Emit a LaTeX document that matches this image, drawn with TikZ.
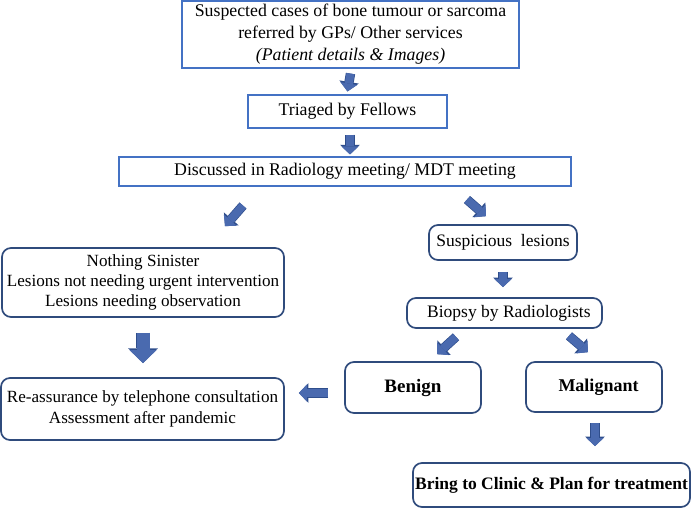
\documentclass[tikz,border=0pt]{standalone}
\usepackage{fontspec}
\setmainfont{Liberation Serif}
\usetikzlibrary{arrows.meta,calc}
\definecolor{rectline}{HTML}{4472C4}
\definecolor{roundline}{HTML}{2F4B7C}
\definecolor{arrowfill}{HTML}{4A6AAF}
\definecolor{arrowline}{HTML}{2F4E8C}
\tikzset{
	plainbox/.style={draw=rectline, line width=1.1pt, inner sep=0pt, align=center, font=\fontsize{17.8}{22}\selectfont},
	roundbox/.style={draw=roundline, line width=1.7pt, rounded corners=9pt, inner sep=0pt, align=center, font=\fontsize{17.1}{20.3}\selectfont},
	thinflow/.style={draw=arrowfill, line width=8pt, -{Triangle[width=17pt,length=8pt,line width=0pt]},
		preaction={draw=arrowline, line width=9.4pt, -{Triangle[width=19.6pt,length=9.6pt,line width=0pt]}}},
	thickflow/.style={draw=arrowfill, line width=13pt, -{Triangle[width=27pt,length=13pt,line width=0pt]},
		preaction={draw=arrowline, line width=14.6pt, -{Triangle[width=29.8pt,length=14.8pt,line width=0pt]}}}
}
\begin{document}
\begin{tikzpicture}[x=1pt,y=-1pt]
		\useasboundingbox (0,0) rectangle (691,509);
		\node[plainbox, minimum width=337pt, minimum height=67pt] (cases) at (350.5,34.5) {Suspected cases of bone tumour or sarcoma\\referred by GPs/ Other services\\\textit{(Patient details \& Images)}};
		\node[plainbox, minimum width=199pt, minimum height=33pt] (triage) at (347.5,111.5) {Triaged by Fellows};
		\node[plainbox, minimum width=452pt, minimum height=29pt] (meeting) at (345,171.5) {Discussed in Radiology meeting/ MDT meeting};
		\node[roundbox, minimum width=282pt, minimum height=69pt] (sinister) at (143,282.5) {Nothing Sinister\\Lesions not needing urgent intervention\\Lesions needing observation};
		\node[roundbox, minimum width=148pt, minimum height=35pt, font=\fontsize{17.5}{21}\selectfont] (suspicious) at (503,242.5) {Suspicious\ \ lesions};
		\node[roundbox, minimum width=195pt, minimum height=30pt, font=\fontsize{17.5}{21}\selectfont] (biopsy) at (504.5,313) {\ \ Biopsy by Radiologists};
		\node[roundbox, minimum width=283pt, minimum height=62pt] (reassure) at (142.5,409) {Re-assurance by telephone consultation\\Assessment after pandemic};
		\node[roundbox, minimum width=136pt, minimum height=51pt, font=\fontsize{19}{21}\selectfont\bfseries] (benign) at (413,387.5) {Benign};
		\node[roundbox, minimum width=136pt, minimum height=50pt, font=\fontsize{18}{21}\selectfont\bfseries] (malignant) at (594,387) {\ \ Malignant};
		\node[roundbox, minimum width=277pt, minimum height=44pt, font=\fontsize{17.5}{21}\selectfont\bfseries] (clinic) at (551.5,485) {Bring to Clinic \& Plan for treatment};
		\draw[thinflow] ($(cases.south)+(0,5)$) -- ($(triage.north)+(0,-3)$);
		\draw[thinflow] ($(triage.south)+(2.5,6)$) -- ($(meeting.north)+(5,-2)$);
		\draw[thinflow] ($(meeting.south)+(-102,19)$) -- ($(sinister.north)+(82,-21)$);
		\draw[thinflow] ($(meeting.south)+(122,13)$) -- ($(suspicious.north)+(-17,-8)$);
		\draw[thinflow] ($(suspicious.south)+(0,11)$) -- ($(biopsy.north)+(-1.5,-10)$);
		\draw[thinflow] ($(biopsy.south)+(-48.5,8)$) -- ($(benign.north)+(24,-7)$);
		\draw[thinflow] ($(biopsy.south)+(64.5,7)$) -- ($(malignant.north)+(-6,-9)$);
		\draw[thickflow] ($(sinister.south)+(0,15)$) -- ($(reassure.north)+(0.5,-14)$);
		\draw[thinflow] ($(benign.west)+(-16,5.5)$) -- ($(reassure.east)+(14,-16)$);
		\draw[thinflow] ($(malignant.south)+(1,10)$) -- ($(clinic.north)+(43.5,-16)$);
	\end{tikzpicture}
\end{document}
